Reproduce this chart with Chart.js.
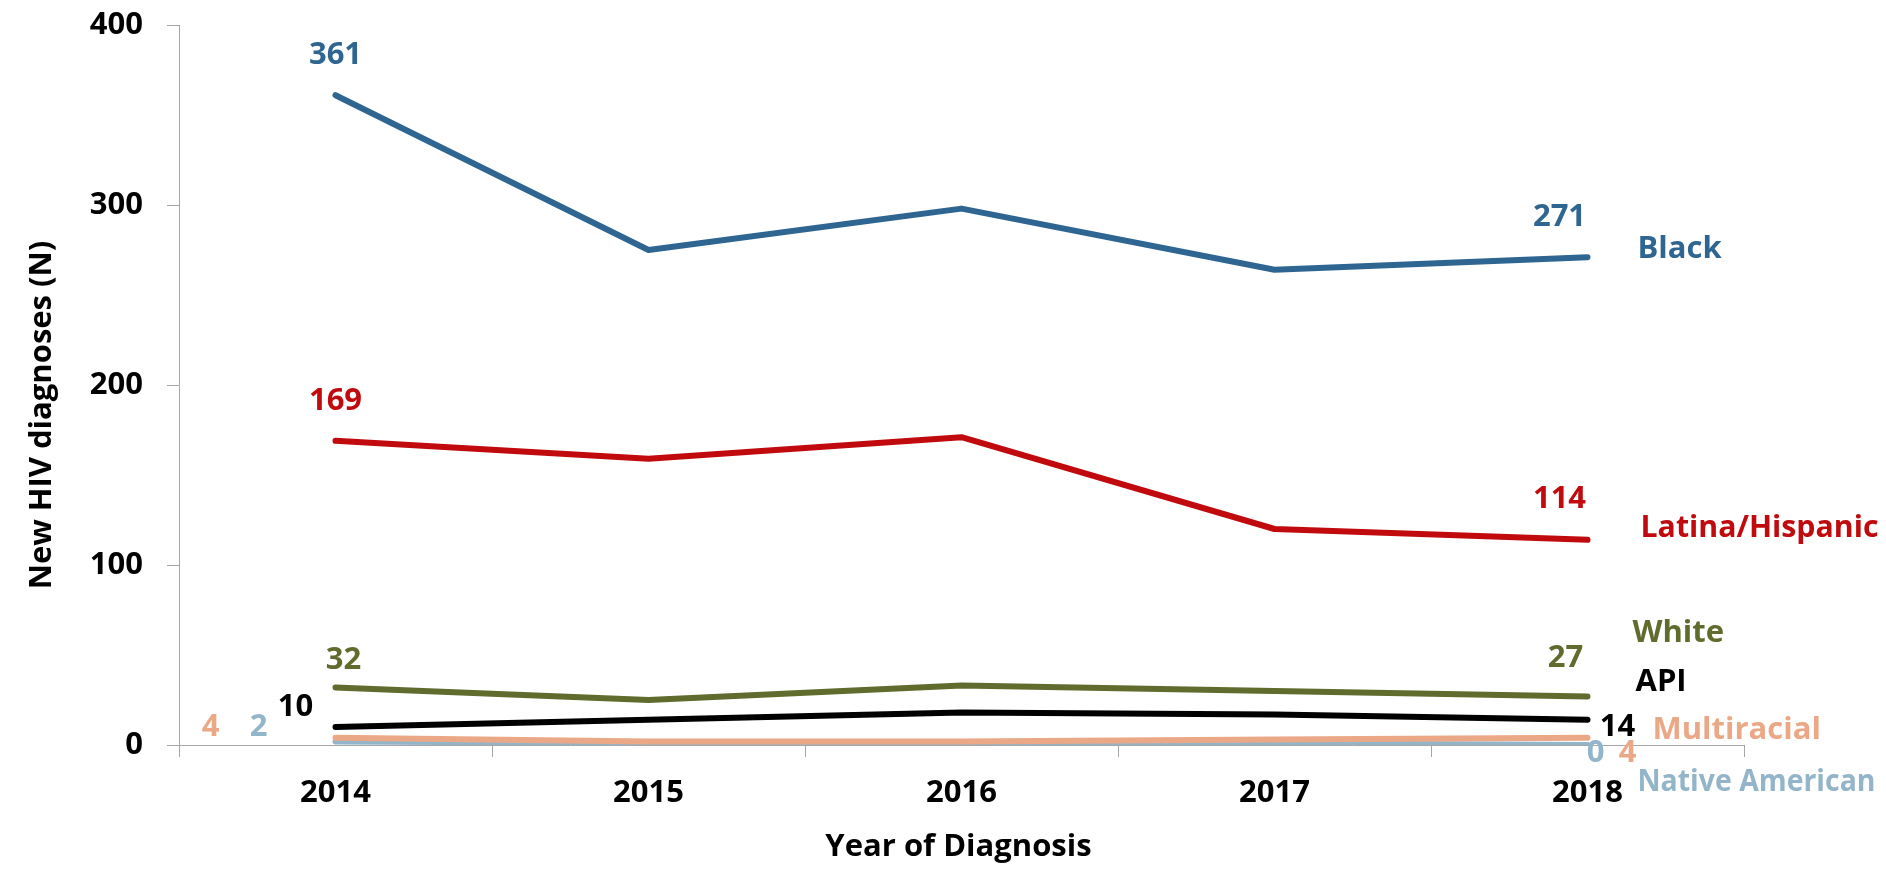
<!DOCTYPE html>
<html>
<head>
<meta charset="utf-8">
<script src="https://cdn.jsdelivr.net/npm/chart.js@4.4.0/dist/chart.umd.min.js"></script>
<style>
  html, body { margin: 0; padding: 0; background: #ffffff; }
  #wrap { width: 1886px; height: 869px; }
</style>
</head>
<body>
<div id="wrap"><canvas id="c" width="1886" height="869"></canvas></div>
<script>
// ---- data ----
const years = ['2014', '2015', '2016', '2017', '2018'];
const seriesNames = ['Black', 'Latina/Hispanic', 'White', 'API', 'Multiracial', 'Native American'];
const black = [361, 275, 298, 264, 271];
const latina = [169, 159, 171, 120, 114];
const white = [32, 25, 33, 30, 27];
const api = [10, 14, 18, 17, 14];
const multiracial = [4, 2, 2, 3, 4];
const nativeAmerican = [2, 1, 0, 1, 0];
const yTicks = [0, 100, 200, 300, 400];
const xTitle = 'Year of Diagnosis';
const yTitle = 'New HIV diagnoses (N)';

// ---- styles ----
const FONT = '"Open Sans", Lato, sans-serif';
const FS = 31;
const colors = ['#2E6591', '#C00A0E', '#606B2E', '#000000', '#EBA887', '#93B5CA'];
// offsets of labels (pixels) relative to first / last points, and series name offsets
const labelStyle = [
  { first: [0, -40], last: [-28, -40], name: [50, -8] },
  { first: [0, -40], last: [-28, -41], name: [53, -12] },
  { first: [8, -27], last: [-22, -38], name: [45, -63] },
  { first: [-40, -20], last: [30, 7], name: [48, -38] },
  { first: [-125, -11], last: [40, 15], name: [65, -8] },
  { first: [-77, -14], last: [8, 8], name: [50, 37] }
];
const nameMaxWidth = 238;

const allSeries = [black, latina, white, api, multiracial, nativeAmerican];

const labelPlugin = {
  id: 'labels',
  afterDatasetsDraw(chart) {
    const ctx = chart.ctx;
    const xs = chart.scales.x, ys = chart.scales.y;
    ctx.save();
    ctx.font = 'bold ' + FS + 'px ' + FONT;
    ctx.textBaseline = 'middle';
    allSeries.forEach((vals, i) => {
      const st = labelStyle[i];
      ctx.fillStyle = colors[i];
      const n = vals.length - 1;
      const x0 = xs.getPixelForValue(0), y0 = ys.getPixelForValue(vals[0]);
      const x1 = xs.getPixelForValue(n), y1 = ys.getPixelForValue(vals[n]);
      ctx.textAlign = 'center';
      ctx.fillText(String(vals[0]), x0 + st.first[0], y0 + st.first[1]);
      ctx.fillText(String(vals[n]), x1 + st.last[0], y1 + st.last[1]);
      ctx.textAlign = 'left';
      ctx.fillText(seriesNames[i], x1 + st.name[0], y1 + st.name[1], nameMaxWidth);
    });
    // axis titles
    ctx.fillStyle = '#000000';
    ctx.textAlign = 'center';
    ctx.textBaseline = 'alphabetic';
    const ca = chart.chartArea;
    ctx.fillText(xTitle, (ca.left + ca.right) / 2 - 3, 856);
    ctx.save();
    ctx.translate(51, 415);
    ctx.rotate(-Math.PI / 2);
    ctx.fillText(yTitle, 0, 0);
    ctx.restore();
    ctx.restore();
  }
};

const datasets = allSeries.map((vals, i) => ({
  label: seriesNames[i],
  data: vals,
  borderColor: colors[i],
  backgroundColor: colors[i],
  borderWidth: 6,
  borderCapStyle: 'round',
  borderJoinStyle: 'round',
  pointRadius: 0,
  pointHoverRadius: 0,
  tension: 0,
  fill: false
}));

new Chart(document.getElementById('c'), {
  type: 'line',
  data: { labels: years, datasets },
  options: {
    responsive: false,
    devicePixelRatio: 1,
    animation: false,
    events: [],
    layout: { padding: { left: 0, right: 142, top: 25, bottom: 0 } },
    plugins: { legend: { display: false }, tooltip: { enabled: false } },
    scales: {
      x: {
        type: 'category',
        offset: true,
        afterFit(scale) { scale.height = 124; scale.paddingLeft = 0; scale.paddingRight = 0; },
        border: { display: true, color: '#A6A6A6', width: 1 },
        grid: { display: true, offset: true, drawOnChartArea: false, drawTicks: true, tickLength: 12, color: '#A6A6A6' },
        ticks: { color: '#000000', font: { family: FONT, size: FS, weight: 'bold' }, padding: 18, maxRotation: 0 }
      },
      y: {
        min: 0, max: 400,
        afterFit(scale) { scale.width = 179; scale.paddingTop = 0; scale.paddingBottom = 0; },
        afterBuildTicks(scale) { scale.ticks = yTicks.map(v => ({ value: v })); },
        border: { display: true, color: '#A6A6A6', width: 1 },
        grid: { display: true, drawOnChartArea: false, drawTicks: true, tickLength: 12, color: '#A6A6A6' },
        ticks: { color: '#000000', font: { family: FONT, size: FS, weight: 'bold' }, padding: 24 }
      }
    }
  },
  plugins: [labelPlugin]
});
</script>
</body>
</html>
